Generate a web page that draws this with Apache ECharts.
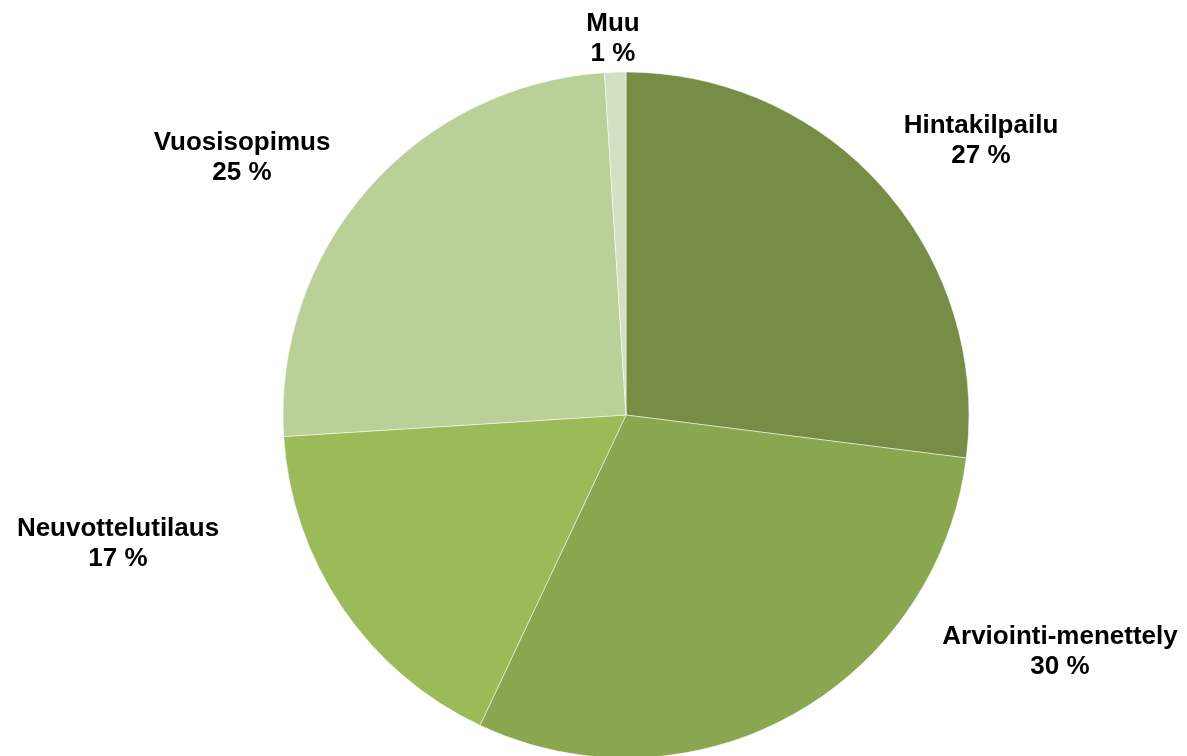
<!DOCTYPE html>
<html>
<head>
<meta charset="utf-8">
<title>Hankintatapa</title>
<script src="https://cdn.jsdelivr.net/npm/echarts@6/dist/echarts.min.js"></script>
<style>
  html, body { margin: 0; padding: 0; background: #fff; }
  #chart { width: 1187px; height: 756px; }
</style>
</head>
<body>
<div id="chart"></div>
<script>
// slices clockwise from 12 o'clock
const categories = ['Hintakilpailu', 'Arviointi-menettely', 'Neuvottelutilaus', 'Vuosisopimus', 'Muu']
const shares = [27, 30, 17, 25, 1]

const colors = ['#778c45', '#8aa64f', '#9bbb59', '#bbcf98', '#d3e0c2']
// label centres, picked to sit where the original places them
const labelPos = [[981, 141], [1060, 652], [118, 544], [242, 158], [613, 39]]

const chart = echarts.init(document.getElementById('chart'))

chart.setOption({
  animation: false,
  backgroundColor: '#fff',
  series: [
    {
      type: 'pie',
      center: [626, 415],
      radius: 343,
      startAngle: 90,
      clockwise: true,
      percentPrecision: 0,
      data: categories.map((name, i) => ({
        name,
        value: shares[i],
        itemStyle: { color: colors[i] }
      })),
      itemStyle: {
        borderColor: 'rgba(255,255,255,0.5)',
        borderWidth: 1
      },
      emphasis: { disabled: true },
      label: {
        show: true,
        position: 'outside',
        formatter: '{b}\n{d} %',
        fontFamily: '"Liberation Sans", Arial, sans-serif',
        fontWeight: 'bold',
        fontSize: 26,
        lineHeight: 30,
        color: '#000',
        align: 'center'
      },
      labelLine: { show: false },
      labelLayout: params => {
        const p = labelPos[params.dataIndex]
        return { x: p[0], y: p[1], align: 'center', verticalAlign: 'middle' }
      }
    }
  ]
})
</script>
</body>
</html>
